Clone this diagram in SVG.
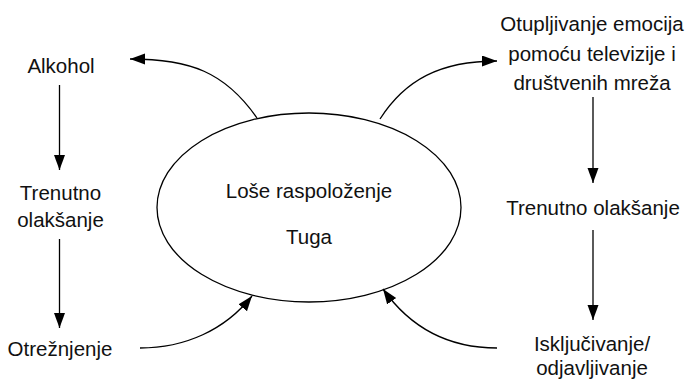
<svg xmlns="http://www.w3.org/2000/svg" width="689" height="380" viewBox="0 0 689 380">
<style>
text{font-family:"Liberation Sans",Arial,sans-serif;font-size:20.5px;fill:#111;text-anchor:middle}
.c{fill:none;stroke:#000;stroke-width:1.3;marker-end:url(#ah)}
</style>
<defs>
<marker id="ah" markerUnits="userSpaceOnUse" markerWidth="16" markerHeight="12" refX="15" refY="5.5" orient="auto">
<path d="M0,0 L15,5.5 L0,11 z" fill="#000"/>
</marker>
</defs>
<rect width="689" height="380" fill="#fff"/>
<g id="center">
<ellipse cx="309" cy="207.5" rx="152" ry="94.5" fill="#fff" stroke="#000" stroke-width="1.3"/>
<text x="309" y="198">Loše raspoloženje</text>
<text x="309" y="244">Tuga</text>
</g>
<g id="alkohol"><text x="61" y="73">Alkohol</text></g>
<g id="trenutno-left"><text x="60.5" y="200">Trenutno</text><text x="60.5" y="227">olakšanje</text></g>
<g id="otreznjenje"><text x="60" y="356">Otrežnjenje</text></g>
<g id="otupljivanje"><text x="592" y="31">Otupljivanje emocija</text><text x="592" y="61">pomoću televizije i</text><text x="592" y="90">društvenih mreža</text></g>
<g id="trenutno-right"><text x="593" y="215">Trenutno olakšanje</text></g>
<g id="iskljucivanje"><text x="592" y="351">Isključivanje/</text><text x="592" y="375">odjavljivanje</text></g>
<g id="connectors">
<path class="c" d="M59.5,85 L59.5,170"/>
<path class="c" d="M59.5,239 L59.5,328"/>
<path class="c" d="M140,348 C185,348 225,330 252,296"/>
<path class="c" d="M257,118 C225,72 190,59 130,59"/>
<path class="c" d="M380,119 C405,80 440,61 497,61"/>
<path class="c" d="M593,97 L593,183"/>
<path class="c" d="M593,230 L593,320"/>
<path class="c" d="M497,348 C450,348 412,330 383,289"/>
</g>
</svg>
